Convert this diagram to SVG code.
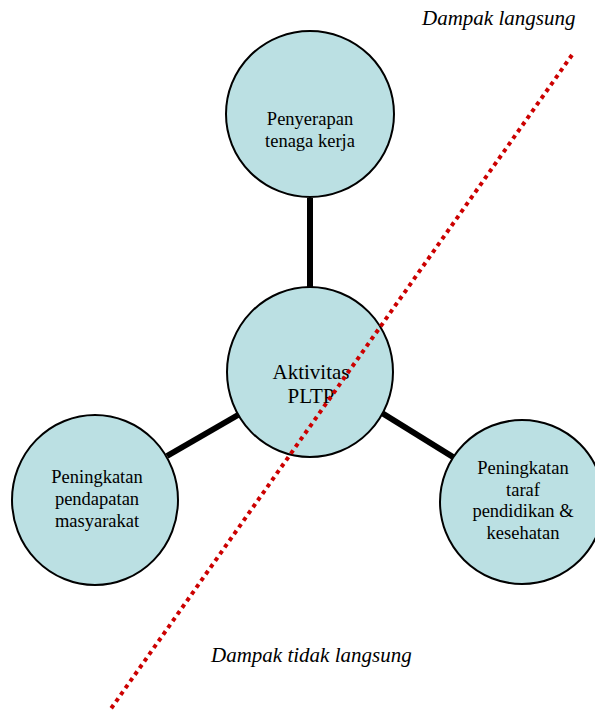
<svg xmlns="http://www.w3.org/2000/svg" width="595" height="710" viewBox="0 0 595 710">
  <style>
    .node { fill: #bbe0e3; stroke: #000; stroke-width: 2; }
    .label { font-family: "Liberation Serif", "Times New Roman", serif; fill: #000; text-anchor: middle; }
    .small { font-size: 18.5px; }
    .big { font-size: 21px; }
    .note { font-family: "Liberation Serif", "Times New Roman", serif; font-style: italic; font-size: 21px; fill: #000; }
    .link { stroke: #000; stroke-width: 6; stroke-linecap: butt; }
    .divider { stroke: #cc0000; stroke-width: 4; stroke-dasharray: 4 4.2; fill: none; }
  </style>
  <rect width="595" height="710" fill="#fff"/>

  <g id="connectors">
    <line class="link" x1="310" y1="198" x2="310" y2="289"/>
    <line class="link" x1="167" y1="456" x2="238" y2="415"/>
    <line class="link" x1="382" y1="413" x2="453" y2="457"/>
  </g>

  <g id="node-penyerapan">
    <ellipse class="node" cx="310" cy="114" rx="84" ry="83"/>
    <text class="label small" x="310" y="125">Penyerapan</text>
    <text class="label small" x="310" y="147">tenaga kerja</text>
  </g>

  <g id="node-aktivitas">
    <ellipse class="node" cx="310" cy="372" rx="83" ry="85"/>
    <text class="label big" x="311" y="379">Aktivitas</text>
    <text class="label big" x="311" y="403">PLTP</text>
  </g>

  <g id="node-pendapatan">
    <ellipse class="node" cx="95" cy="500" rx="83" ry="85"/>
    <text class="label small" x="97" y="483">Peningkatan</text>
    <text class="label small" x="97" y="505">pendapatan</text>
    <text class="label small" x="97" y="527">masyarakat</text>
  </g>

  <g id="node-pendidikan">
    <ellipse class="node" cx="522" cy="502" rx="82" ry="82"/>
    <text class="label small" x="523" y="474">Peningkatan</text>
    <text class="label small" x="523" y="496">taraf</text>
    <text class="label small" x="523" y="517">pendidikan &amp;</text>
    <text class="label small" x="523" y="539">kesehatan</text>
  </g>

  <g id="divider">
    <line class="divider" x1="572" y1="55" x2="110" y2="710"/>
  </g>

  <text class="note" x="422" y="25">Dampak langsung</text>
  <text class="note" x="211" y="662">Dampak tidak langsung</text>
</svg>
